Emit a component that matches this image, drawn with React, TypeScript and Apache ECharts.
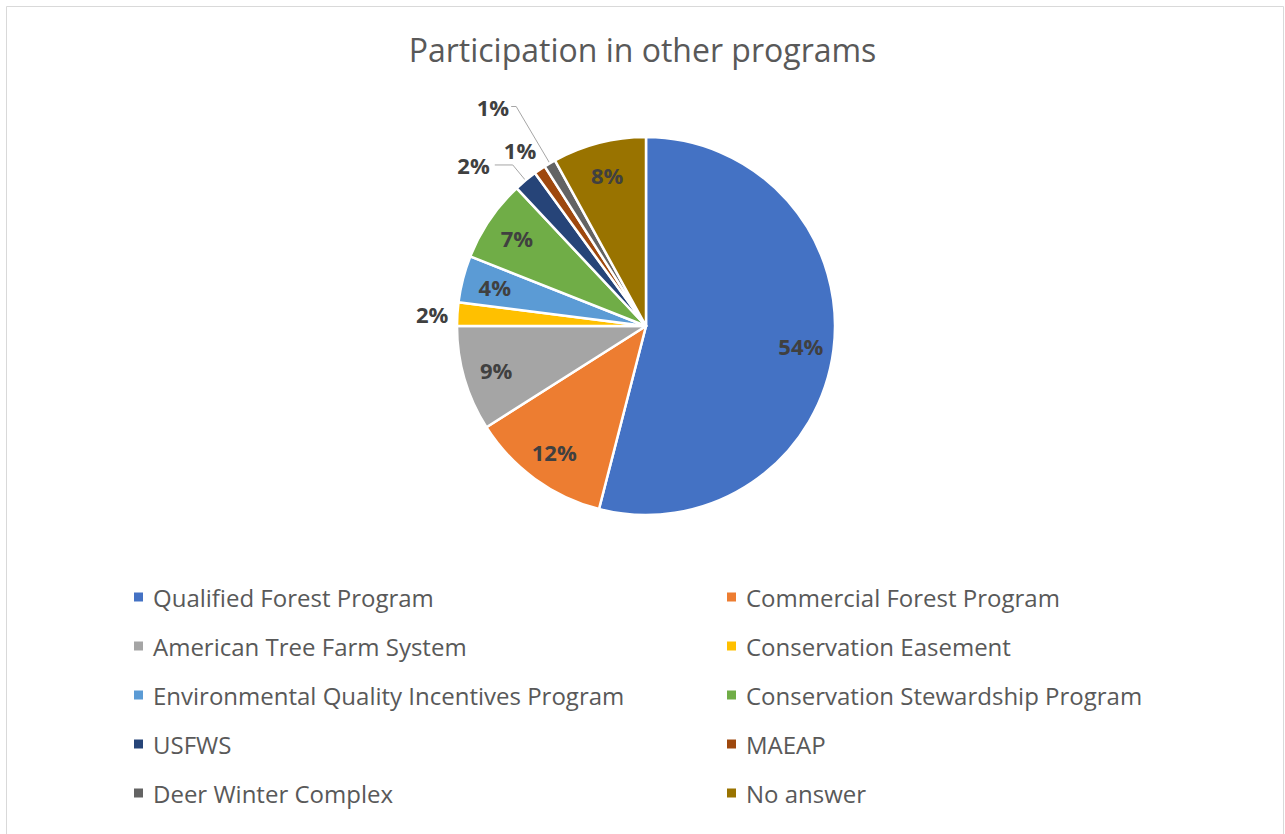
import React, { useEffect, useRef } from "react";
import * as echarts from "echarts";

const categories = [
  "Qualified Forest Program",
  "Commercial Forest Program",
  "American Tree Farm System",
  "Conservation Easement",
  "Environmental Quality Incentives Program",
  "Conservation Stewardship Program",
  "USFWS",
  "MAEAP",
  "Deer Winter Complex",
  "No answer",
];
const values = [54, 12, 9, 2, 4, 7, 2, 1, 1, 8];
const colors = [
  "#4472C4", "#ED7D31", "#A5A5A5", "#FFC000", "#5B9BD5",
  "#70AD47", "#264478", "#9E480E", "#636363", "#997300",
];
const legendLeft = [categories[0], categories[2], categories[4], categories[6], categories[8]];
const legendRight = [categories[1], categories[3], categories[5], categories[7], categories[9]];

// outside label settings (index -> [length, length2, showLine, distance])
const outsideLabels: Record<number, [number, number, boolean, number]> = {
  3: [2, 2, false, 5],
  6: [20, 18, true, 5],
  7: [24, 0, false, -10],
  8: [66, 5, true, 2],
};

export default function App() {
  const ref = useRef<HTMLDivElement>(null);
  useEffect(() => {
    const chart = echarts.init(ref.current!, undefined, { renderer: "svg" });
    const cx = 646, cy = 326, R = 189;
    const labelColor = "#404040";
    const labelFont = { fontFamily: "Open Sans", fontWeight: "bold" as const, fontSize: 22, color: labelColor };
    const mainData = categories.map((name, i) => {
      const o = outsideLabels[i];
      return {
        name,
        value: values[i],
        itemStyle: { color: colors[i] },
        label: o
          ? { show: true, position: "outside", distanceToLabelLine: o[3] }
          : { show: false },
        labelLine: o
          ? { show: o[2], length: o[0], length2: o[1], lineStyle: { color: "#A6A6A6", width: 1 } }
          : { show: false },
      };
    });
    const overlayData = categories.map((name, i) => ({
      name: name + "\u200b",
      value: values[i],
      label: { show: !outsideLabels[i] },
    }));
    const legendText = { fontFamily: "Open Sans", fontSize: 24, color: "#595959", lineHeight: 26, padding: [0, 0, 0, 4] };
    chart.setOption({
      animation: false,
      backgroundColor: "#ffffff",
      title: {
        text: "Participation in other programs",
        left: "center",
        top: 33,
        padding: 0,
        textStyle: { fontFamily: "Open Sans", fontWeight: "normal", fontSize: 32, color: "#595959" },
      },
      graphic: [
        {
          type: "rect",
          shape: { x: 6.5, y: 6.5, width: 1277, height: 900 },
          style: { fill: "none", stroke: "#D9D9D9", lineWidth: 1 },
          silent: true,
        },
      ],
      legend: [
        {
          orient: "vertical",
          left: 132,
          top: 584,
          padding: 0,
          data: legendLeft,
          icon: "rect",
          itemWidth: 11,
          itemHeight: 11,
          itemGap: 23,
          textStyle: legendText,
        },
        {
          orient: "vertical",
          left: 725,
          top: 584,
          padding: 0,
          data: legendRight,
          icon: "rect",
          itemWidth: 11,
          itemHeight: 11,
          itemGap: 23,
          textStyle: legendText,
        },
      ],
      series: [
        {
          type: "pie",
          center: [cx, cy],
          radius: [0, R],
          startAngle: 90,
          clockwise: true,
          avoidLabelOverlap: false,
          itemStyle: { borderColor: "#ffffff", borderWidth: 2.5 },
          label: { ...labelFont, formatter: "{c}%" },
          emphasis: { disabled: true },
          data: mainData,
        },
        {
          type: "pie",
          center: [cx, cy],
          radius: [R * 0.62, R],
          startAngle: 90,
          clockwise: true,
          silent: true,
          avoidLabelOverlap: false,
          itemStyle: { color: "transparent", borderWidth: 0 },
          label: { ...labelFont, position: "inside", formatter: "{c}%" },
          labelLine: { show: false },
          emphasis: { disabled: true },
          data: overlayData,
        },
      ],
    });
    return () => chart.dispose();
  }, []);
  return (
    <div
      ref={ref}
      style={{ position: "fixed", left: 0, top: 0, width: 1285, height: 834 }}
    />
  );
}
